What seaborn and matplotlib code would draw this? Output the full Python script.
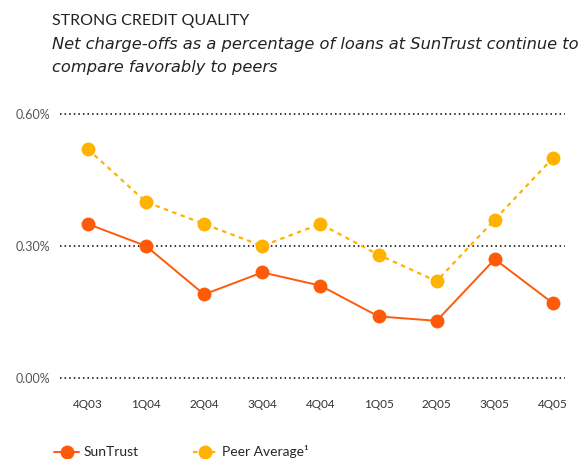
import pandas as pd
import matplotlib.pyplot as plt
import seaborn as sns

# --- DADOS ---
quarters = ['4Q03', '1Q04', '2Q04', '3Q04', '4Q04', '1Q05', '2Q05', '3Q05', '4Q05']
suntrust = [0.35, 0.30, 0.19, 0.24, 0.21, 0.14, 0.13, 0.27, 0.17]
peer_avg = [0.52, 0.40, 0.35, 0.30, 0.35, 0.28, 0.22, 0.36, 0.50]
y_ticks = [0.0, 0.3, 0.6]
y_labels = ['0.00%', '0.30%', '0.60%']

df = pd.DataFrame({'quarter': quarters, 'SunTrust': suntrust, 'Peer': peer_avg})
df['pos'] = range(len(quarters))

sns.set_style('white')
plt.rcParams['font.family'] = ['Lato', 'DejaVu Sans']

fig = plt.figure(figsize=(5.82, 4.59), dpi=100)
ax = fig.add_axes([0.103, 0.161, 0.868, 0.61])

sun_col = '#ff5a0a'
peer_col = '#ffb300'

sns.lineplot(data=df, x='pos', y='Peer', ax=ax, color=peer_col, lw=1.6,
             linestyle=(0, (2, 2)), marker='o', markersize=10,
             markeredgewidth=0, label='Peer Average¹', zorder=3)
sns.lineplot(data=df, x='pos', y='SunTrust', ax=ax, color=sun_col, lw=1.4,
             marker='o', markersize=10, markeredgewidth=0,
             label='SunTrust', zorder=4)

for y in y_ticks:
    ax.axhline(y, color='black', lw=1.1, linestyle=(0, (1, 2)), zorder=1)

ax.set_xlim(-0.48, 8.21)
ax.set_ylim(-0.016, 0.62)
ax.set_xticks(df['pos'])
ax.set_xticklabels(quarters, fontsize=8.5, color='#333333')
ax.set_yticks(y_ticks)
ax.set_yticklabels(y_labels, fontsize=9, color='#555555')
ax.tick_params(axis='both', length=0)
ax.tick_params(axis='x', pad=10)
ax.tick_params(axis='y', pad=7)
ax.set_xlabel('')
ax.set_ylabel('')
for s in ax.spines.values():
    s.set_visible(False)

# legenda na parte de baixo
handles, labels = ax.get_legend_handles_labels()
ax.legend().remove()
fig.legend([handles[1], handles[0]], [labels[1], labels[0]], loc='lower left',
           bbox_to_anchor=(0.072, -0.026), ncol=2, frameon=False, fontsize=10,
           handlelength=1.8, columnspacing=3.9, handletextpad=0.3)

fig.text(0.09, 0.955, 'STRONG CREDIT QUALITY', fontsize=11.5, color='#222222', va='center')
fig.text(0.09, 0.902, 'Net charge-offs as a percentage of loans at SunTrust continue to',
         fontsize=11.7, style='italic', color='#222222', va='center',
         family=['DejaVu Sans'])
fig.text(0.09, 0.852, 'compare favorably to peers', fontsize=11.7, style='italic',
         color='#222222', va='center', family=['DejaVu Sans'])

fig.savefig('out.png', dpi=100)
